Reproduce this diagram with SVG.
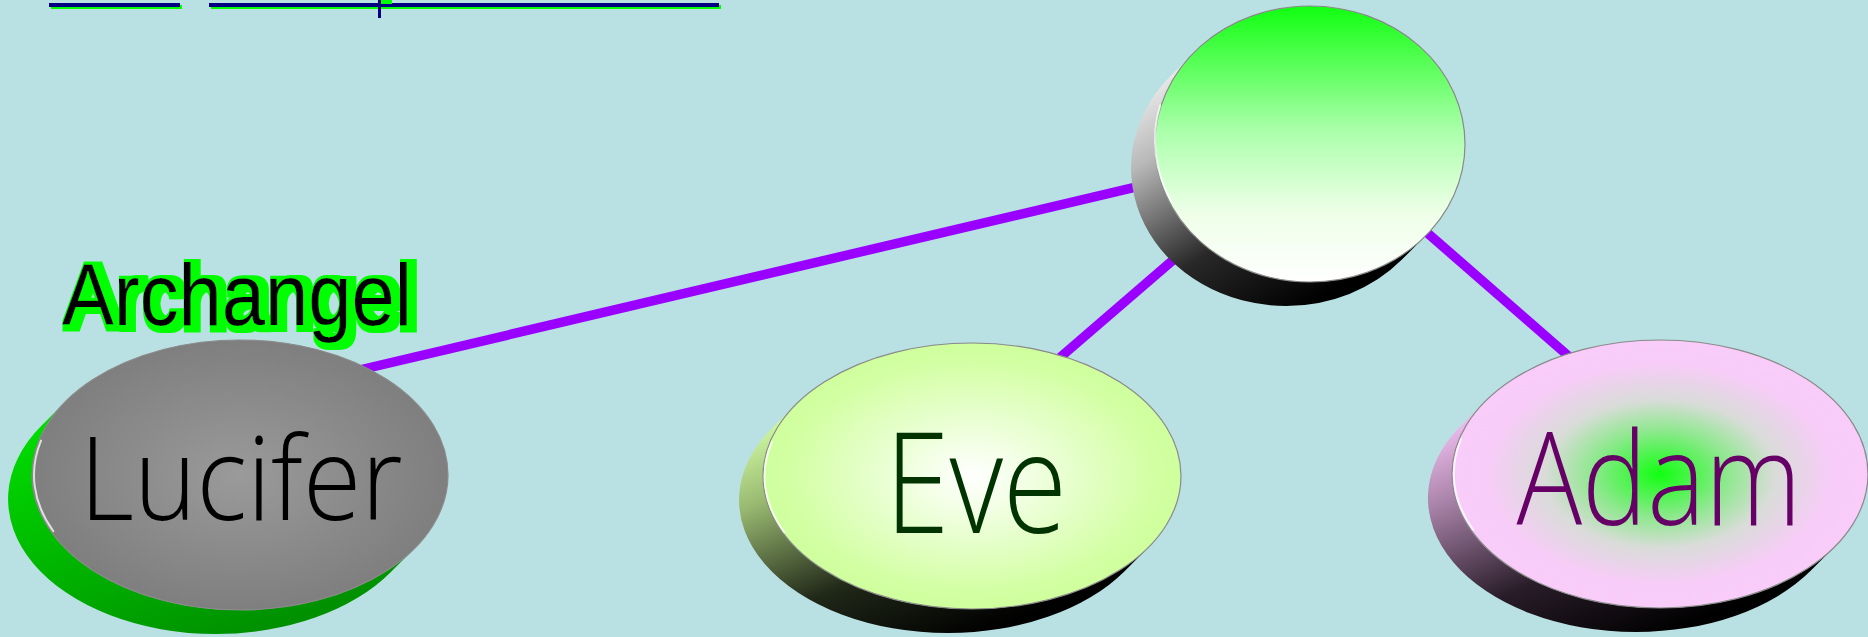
<svg xmlns="http://www.w3.org/2000/svg" width="1868" height="637" viewBox="0 0 1868 637">
<style>
.edge{stroke:#9900ff;stroke-width:9.5;fill:none;stroke-linecap:butt}
.top{stroke:#8a8a8a;stroke-width:1.2}
.rim{fill:none;stroke:#ffffff;stroke-width:2;stroke-opacity:0.75;stroke-linecap:round}
.lbl{font-family:"Open Sans","Noto Sans","Liberation Sans",sans-serif;font-weight:300;text-anchor:middle}
.ul{fill:#000080}
.uls{fill:#00ff00}
</style>
<defs>
<filter id="greenShadow" x="-10%" y="-20%" width="130%" height="150%">
<feMorphology in="SourceAlpha" operator="dilate" radius="4.5" result="d"/>
<feOffset in="d" dx="5" dy="2" result="o"/>
<feFlood flood-color="#00ff00"/>
<feComposite in2="o" operator="in" result="g"/>
<feMerge><feMergeNode in="g"/><feMergeNode in="SourceGraphic"/></feMerge>
</filter>
<radialGradient id="gLuc" cx="0.5" cy="0.5" r="0.55">
<stop offset="0" stop-color="#9a9a9a"/><stop offset="1" stop-color="#7c7c7c"/>
</radialGradient>
<linearGradient id="sLuc" x1="0" y1="0" x2="0.6" y2="1">
<stop offset="0" stop-color="#00e600"/><stop offset="1" stop-color="#009000"/>
</linearGradient>
<radialGradient id="gEve" cx="0.5" cy="0.5" r="0.55">
<stop offset="0" stop-color="#ffffff"/><stop offset="0.8" stop-color="#d2ffa2"/><stop offset="1" stop-color="#ccff99"/>
</radialGradient>
<linearGradient id="sEve" x1="0" y1="0.15" x2="0.6" y2="1">
<stop offset="0" stop-color="#ccf5a0"/><stop offset="0.25" stop-color="#98b870"/><stop offset="0.65" stop-color="#202818"/><stop offset="1" stop-color="#000000"/>
</linearGradient>
<radialGradient id="gAdam" cx="0.5" cy="0.5" r="0.55">
<stop offset="0" stop-color="#11ff11"/><stop offset="0.3" stop-color="#90e890"/><stop offset="0.5" stop-color="#d8dcd8"/><stop offset="0.75" stop-color="#f8ccf8"/><stop offset="1" stop-color="#f9ccf9"/>
</radialGradient>
<linearGradient id="sAdam" x1="0" y1="0.15" x2="0.6" y2="1">
<stop offset="0" stop-color="#ecbcec"/><stop offset="0.25" stop-color="#a882a8"/><stop offset="0.65" stop-color="#281c28"/><stop offset="1" stop-color="#000000"/>
</linearGradient>
<linearGradient id="gTop" x1="0" y1="0" x2="0" y2="1">
<stop offset="0" stop-color="#11ff11"/><stop offset="0.45" stop-color="#aaffaa"/><stop offset="0.75" stop-color="#eeffe8"/><stop offset="1" stop-color="#ffffff"/>
</linearGradient>
<linearGradient id="sTop" x1="0" y1="0.15" x2="0.6" y2="1">
<stop offset="0" stop-color="#eeeeee"/><stop offset="0.25" stop-color="#b8b8b8"/><stop offset="0.65" stop-color="#282828"/><stop offset="1" stop-color="#000000"/>
</linearGradient>
</defs>
<rect width="1868" height="637" fill="#b9e0e3"/>

<g id="title">
<rect class="uls" x="51" y="5" width="131" height="4"/>
<rect class="ul" x="49" y="3" width="131" height="4"/>
<rect class="uls" x="211" y="5" width="510" height="4"/>
<rect class="ul" x="209" y="3" width="510" height="4"/>
<rect class="uls" x="381" y="0" width="11" height="4"/>
<rect class="ul" x="378" y="0" width="3" height="18"/>
</g>

<g id="connectors">
<line class="edge" x1="300" y1="384" x2="1310" y2="146"/>
<line class="edge" x1="1020" y1="392" x2="1310" y2="142"/>
<line class="edge" x1="1330" y1="148" x2="1620" y2="401"/>
</g>

<g id="node-top">
<path fill="url(#sTop)" d="M1194.3,52.2 L1170.3,76.2 A155,138 0 0 0 1286,306 A155,138 0 0 0 1401.7,259.8 L1425.7,235.8 A155,138 0 0 1 1310,282 A155,138 0 0 1 1194.3,52.2 Z"/>
<ellipse class="top" cx="1310" cy="144" rx="155" ry="138" fill="url(#gTop)"/>
<path class="rim" d="M1160.2,105.1 A153,136 0 0 0 1171.3,201.5"/>
</g>

<g id="node-lucifer">
<path fill="url(#sLuc)" d="M65.6,401.5 L41.6,425.5 A208,135 0 0 0 216,634 A208,135 0 0 0 390.4,572.5 L414.4,548.5 A208,135 0 0 1 240,610 A208,135 0 0 1 65.6,401.5 Z"/>
<ellipse class="top" cx="240" cy="475" rx="208" ry="135" fill="url(#gLuc)"/>
<path class="rim" d="M41,440.6 A206,133 0 0 0 53.3,531.2" stroke-opacity="0.5"/>
<text class="lbl" x="241" y="520" font-size="116" fill="#000000" textLength="323" lengthAdjust="spacingAndGlyphs">Lucifer</text>
</g>

<g id="label-archangel">
<text x="62" y="325" font-family="'Liberation Sans Narrow','Liberation Sans',sans-serif" font-size="87" fill="#000000" textLength="350" lengthAdjust="spacingAndGlyphs" filter="url(#greenShadow)">Archangel</text>
</g>

<g id="node-eve">
<path fill="url(#sEve)" d="M795.7,404.6 L771.7,428.6 A209,133 0 0 0 948,633 A209,133 0 0 0 1124.3,571.4 L1148.3,547.4 A209,133 0 0 1 972,609 A209,133 0 0 1 795.7,404.6 Z"/>
<ellipse class="top" cx="972" cy="476" rx="209" ry="133" fill="url(#gEve)"/>
<path class="rim" d="M772,441.6 A207,131 0 0 0 784.4,532.3"/>
<text class="lbl" x="976" y="533" font-size="141" fill="#003300" textLength="182" lengthAdjust="spacingAndGlyphs">Eve</text>
</g>

<g id="node-adam">
<path fill="url(#sAdam)" d="M1485.1,401.4 L1461.1,425.4 A208,134 0 0 0 1636,632 A208,134 0 0 0 1810.9,570.6 L1834.9,546.6 A208,134 0 0 1 1660,608 A208,134 0 0 1 1485.1,401.4 Z"/>
<ellipse class="top" cx="1660" cy="474" rx="208" ry="134" fill="url(#gAdam)"/>
<path class="rim" d="M1461,439.4 A206,132 0 0 0 1473.3,529.8"/>
<text class="lbl" x="1659" y="525" font-size="129" fill="#660066" textLength="285" lengthAdjust="spacingAndGlyphs">Adam</text>
</g>
</svg>
